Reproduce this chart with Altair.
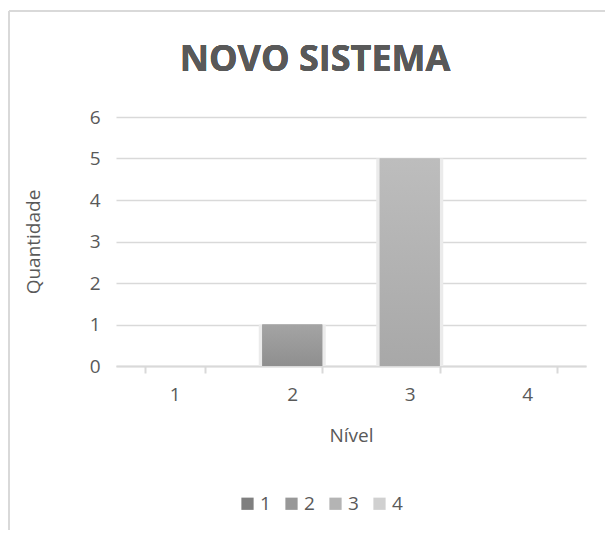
import altair as alt
import pandas as pd

# Data
niveis = ["1", "2", "3", "4"]
quantidades = [0, 1, 5, 0]
cores = ["#7f7f7f", "#989898", "#b4b4b4", "#d0d0d0"]
# top / bottom shades for each level's bar fill
cores_topo = ["#8a8a8a", "#a4a4a4", "#bdbdbd", "#d8d8d8"]
cores_base = ["#777777", "#8f8f8f", "#a8a8a8", "#c6c6c6"]
y_ticks = [0, 1, 2, 3, 4, 5, 6]

df = pd.DataFrame({"Nível": niveis, "Quantidade": quantidades})

FONT = "Open Sans"
TXT = "#595959"
GRID = "#d9d9d9"
FS = 19

TOTAL_W, TOTAL_H = 605, 530
W, H = 470, 249          # plot area
PAD_L, PAD_T = 116, 117  # plot area origin inside the page

x_scale = alt.Scale(domain=niveis, paddingInner=0.49, paddingOuter=0.245)
y_scale = alt.Scale(domain=[0, 6], nice=False)

x_axis = alt.X(
    "Nível:N",
    sort=niveis,
    scale=x_scale,
    axis=alt.Axis(
        title="Nível", labelAngle=0, labelFontSize=FS, labelColor=TXT, labelFont=FONT,
        labelPadding=12, titleFontSize=FS, titleColor=TXT, titleFont=FONT,
        titleFontWeight="normal", titlePadding=22, domainColor=GRID, domainWidth=2,
        tickColor=GRID, tickWidth=2, tickSize=7, tickBand="extent", grid=False,
    ),
)
y_axis = alt.Y(
    "Quantidade:Q",
    scale=y_scale,
    axis=alt.Axis(
        title="Quantidade", values=y_ticks, labelFontSize=FS, labelColor=TXT,
        labelFont=FONT, labelPadding=16, ticks=False, domain=False, gridColor=GRID,
        gridWidth=1.5, titleFontSize=FS, titleColor=TXT, titleFont=FONT,
        titleFontWeight="normal", titlePadding=46,
    ),
)
x_plain = alt.X("Nível:N", sort=niveis, scale=x_scale)
y_plain = alt.Y("Quantidade:Q", scale=y_scale)

base = alt.Chart(df)

# Soft shadow behind the bars; this layer also carries the axes
shadow = base.mark_bar(size=67, color="#ebebeb").encode(
    x=x_axis,
    y=y_axis,
    y2=alt.value(H + 3),
)

# Bars colored by level (drives the legend)
bars = base.mark_bar(size=60).encode(
    x=x_plain,
    y=y_plain,
    color=alt.Color(
        "Nível:N",
        scale=alt.Scale(domain=niveis, range=cores),
        legend=alt.Legend(
            title=None, orient="none", direction="horizontal",
            legendX=238 - PAD_L, legendY=494 - PAD_T, symbolType="square",
            symbolSize=150, symbolStrokeWidth=0, labelFontSize=FS, labelColor=TXT,
            labelFont=FONT, columnPadding=11, labelOffset=3,
        ),
    ),
)

# Gradient fill on top of each bar
grad_layers = []
for nivel, topo, fundo in zip(niveis, cores_topo, cores_base):
    grad_layers.append(
        base.transform_filter(alt.datum["Nível"] == nivel)
        .mark_bar(
            size=60,
            color=alt.Gradient(
                gradient="linear", x1=0, x2=0, y1=0, y2=1,
                stops=[alt.GradientStop(color=topo, offset=0),
                       alt.GradientStop(color=fundo, offset=1)],
            ),
        )
        .encode(x=x_plain, y=y_plain)
    )

# Outer chart frame: left and top edges, running to the page edges
frame_left = base.mark_rule(color=GRID, strokeWidth=2).encode(
    x=alt.value(9 - PAD_L), y=alt.value(11 - PAD_T), y2=alt.value(TOTAL_H - PAD_T),
)
frame_top = base.mark_rule(color=GRID, strokeWidth=2).encode(
    x=alt.value(9 - PAD_L), x2=alt.value(TOTAL_W - PAD_L), y=alt.value(11 - PAD_T),
)

title = base.mark_text(
    text="NOVO SISTEMA", font=FONT, fontSize=36, fontWeight="bold", color=TXT,
    align="center", baseline="alphabetic",
).encode(x=alt.value(315 - PAD_L), y=alt.value(71 - PAD_T))

chart = (
    alt.layer(shadow, bars, *grad_layers, frame_left, frame_top, title)
    .properties(
        width=W, height=H,
        background="white",
        autosize=alt.AutoSizeParams(type="none"),
        padding={"left": PAD_L, "top": PAD_T,
                 "right": TOTAL_W - PAD_L - W, "bottom": TOTAL_H - PAD_T - H},
    )
    .configure_view(stroke=None, strokeWidth=0)
)

chart.save("out.html", embed_options={"renderer": "svg", "actions": False})
